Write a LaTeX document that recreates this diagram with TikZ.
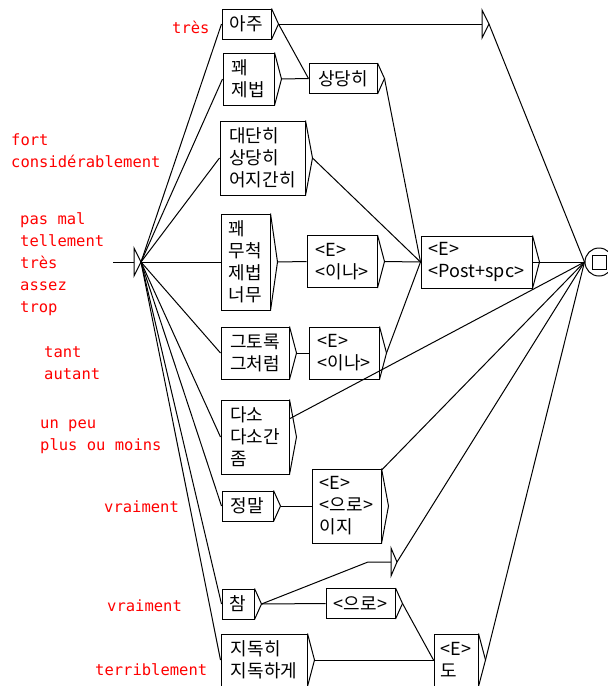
\documentclass[tikz,border=0pt]{standalone}
\usepackage{fontspec}
\newfontfamily\kofont{Noto Sans CJK KR}
\newfontfamily\cmtfont{DejaVu Sans Mono}
\usetikzlibrary{calc}

\begin{document}
\begin{tikzpicture}[
  x=1pt, y=-1pt,
  box/.style={draw, line width=1pt, align=left, inner xsep=5, inner ysep=0, font=\kofont\fontsize{18}{22}\selectfont},
  h1/.style={minimum height=30},
  h2/.style={minimum height=52},
  h3/.style={minimum height=74},
  h4/.style={minimum height=96},
  link/.style={line width=1pt},
  note/.style={anchor=west, align=left, inner sep=0, text=red, font=\cmtfont\fontsize{15.5}{22}\selectfont}
]
\useasboundingbox (0,0) rectangle (608,686);

% left column
\node[box, h1, minimum width=49] (aju) at (246.5,24) {아주};
\node[box, h2, minimum width=51] (kwae) at (248.5,79) {꽤\\제법};
\node[box, h3, minimum width=85] (daedan) at (262.5,158) {대단히\\상당히\\어지간히};
\node[box, h4, minimum width=49] (mucheok) at (245.5,262) {꽤\\무척\\제법\\너무};
\node[box, h2, minimum width=68] (geutorok) at (255,353) {그토록\\그처럼};
\node[box, h3, minimum width=68] (daso) at (255,437) {다소\\다소간\\좀};
\node[box, h1, minimum width=51] (jeongmal) at (247.5,506) {정말};
\node[box, h1, minimum width=32] (cham) at (238,604) {참};
\node[box, h2, minimum width=86] (jidok) at (264,660) {지독히\\지독하게};

% right part
\node[box, h1, minimum width=68] (sangdang) at (343,78.5) {상당히};
\node[box, h2, minimum width=70] (ina1) at (342,261.5) {<E>\\<이나>};
\node[box, h2, minimum width=111] (post) at (476.5,262) {<E>\\<Post+spc>};
\node[box, h2, minimum width=70] (ina2) at (344,353) {<E>\\<이나>};
\node[box, h3, minimum width=69] (iji) at (346.5,506) {<E>\\<으로>\\이지};
\node[box, h1, minimum width=69] (euro) at (360.5,603.5) {<으로>};
\node[box, h2, minimum width=44] (do) at (456,660) {<E>\\도};

% output brackets
\foreach \n in {aju,kwae,daedan,mucheok,geutorok,daso,jeongmal,cham,jidok,sangdang,ina1,post,ina2,iji,euro,do} {
  \coordinate (\n-o) at ($(\n.east)+(7,0)$);
  \draw[link] (\n.north east) -- (\n-o) -- (\n.south east);
}

% initial, final and empty states
\coordinate (entry) at (113,262);
\coordinate (init-in) at (134,262);
\coordinate (init) at (141,262);
\coordinate (t1-in) at (482,24);
\coordinate (t1) at (489,24);
\coordinate (t2-lead) at (368,562);
\coordinate (t2-in) at (391,562);
\coordinate (t2) at (397,562);
\foreach \t in {init,t1,t2}
  \draw[link] ($(\t-in)+(0,-14)$) -- (\t) -- ($(\t-in)+(0,14)$) -- cycle;
\node[circle, draw, line width=1pt, minimum size=28, inner sep=0] (final) at (599,262) {};
\node[draw, line width=1pt, minimum size=14, inner sep=0] (finalsq) at (final) {};

% transitions
\draw[link] (entry) -- (init-in);
\foreach \n in {aju,kwae,daedan,mucheok,geutorok,daso,jeongmal,cham,jidok}
  \draw[link] (init) -- (\n.west);
\draw[link] (aju-o) -- (t1-in);
\draw[link] (aju-o) -- (sangdang.west);
\draw[link] (kwae-o) -- (sangdang.west);
\draw[link] (sangdang-o) -- (post.west);
\draw[link] (daedan-o) -- (post.west);
\draw[link] (mucheok-o) -- (ina1.west);
\draw[link] (ina1-o) -- (post.west);
\draw[link] (geutorok-o) -- (ina2.west);
\draw[link] (ina2-o) -- (post.west);
\draw[link] (jeongmal-o) -- (iji.west);
\draw[link] (cham-o) -- (t2-lead) -- (t2-in);
\draw[link] (cham-o) -- (euro.west);
\draw[link] (euro-o) -- (do.west);
\draw[link] (jidok-o) -- (do.west);
\foreach \n in {t1,post,daso,iji,t2,do-o}
  \draw[link] (\n) -- (final.west);

% comments
\node[note] (lblTres) at (172,27) {très};
\node[note] (lblFort) at (11,151) {fort\\considérablement};
\node[note] (lblPasmal) at (20,264.5) {pas mal\\tellement\\très\\assez\\trop};
\node[note] (lblTant) at (44,363.5) {tant\\autant};
\node[note] (lblUnpeu) at (40,437) {un peu\\plus ou moins};
\node[note] (lblVrai1) at (104,507) {vraiment};
\node[note] (lblVrai2) at (107,606) {vraiment};
\node[note] (lblTerr) at (95,670) {terriblement};
\end{tikzpicture}
\end{document}
